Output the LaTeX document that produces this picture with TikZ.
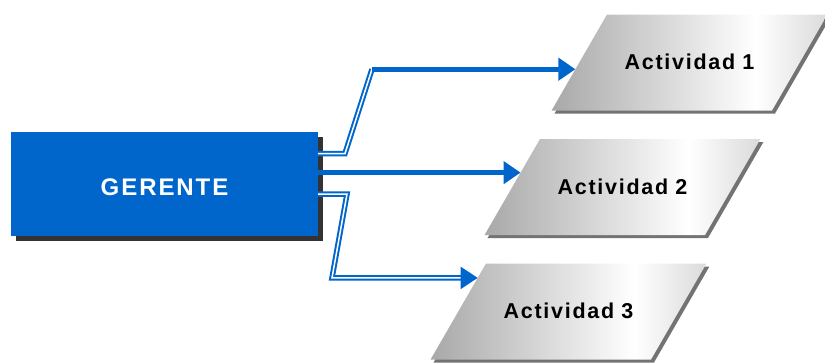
\documentclass[tikz,border=0pt]{standalone}
\usepackage{fontspec}
\setmainfont{Liberation Sans}
\newfontfamily\actfont[LetterSpace=8]{Liberation Sans}
\usetikzlibrary{shapes.geometric,shadows,calc,arrows.meta}
\definecolor{gerblue}{RGB}{0,102,204}
\definecolor{shadowgray}{RGB}{51,51,51}
\pgfdeclarehorizontalshading{metal}{100bp}{color(0bp)=(black!50); color(12bp)=(black!46); color(62bp)=(white); color(100bp)=(black!42)}
\tikzset{
    boss/.style={rectangle, fill=gerblue, text=white, minimum width=307pt, minimum height=104pt,
        inner sep=0pt, text height=25pt, font=\actfont\fontsize{24}{28}\selectfont\bfseries,
        general shadow={shadow xshift=5pt, shadow yshift=-5pt, fill=shadowgray}},
    task/.style={trapezium, trapezium left angle=60, trapezium right angle=120,
        text width=165pt, align=center, text height=55pt, text depth=41pt,
        inner sep=0pt, outer sep=0pt, shade, shading=metal,
        font=\actfont\fontsize{21.5}{25}\selectfont\bfseries,
        general shadow={shadow xshift=3pt, shadow yshift=-3pt, fill=black!55}},
    flow/.style={draw=gerblue, line width=5pt},
    dflow/.style={draw=gerblue, line width=2pt, double=white, double distance=1.5pt},
    arr/.style={-{Triangle[length=17pt,width=22pt]}}
}
\begin{document}
\begin{tikzpicture}[x=1pt,y=-1pt]
        \useasboundingbox (0,0) rectangle (825,362);
        % boxes
            \node[boss] (gerente) at (164.5,183.5) {GERENTE};
            \foreach \n/\x/\y in {1/689.5/62.5,2/622.5/187,3/568.5/311.5}{
                \node[task] (act\n) at (\x,\y) {Actividad \n};
            }
        % entry points
            \coordinate (in1) at ($(act1.top left corner)!0.57!(act1.bottom left corner)$);
            \coordinate (in2) at ($(act2.top left corner)!0.35!(act2.bottom left corner)$);
            \coordinate (in3) at ($(act3.top left corner)!0.15!(act3.bottom left corner)$);
            \coordinate (o1) at ([yshift=30pt]gerente.east);
            \coordinate (o3) at ([yshift=-10.5pt]gerente.east);
            \coordinate (b1) at (345,0 |- o1);
            \coordinate (b2) at (372,0 |- in1);
            \coordinate (b3) at (347,0 |- o3);
            \coordinate (b4) at (332,0 |- in3);
        % arrows
            \draw[dflow] (o1) -- (b1) -- (b2);
            \draw[flow,arr] (b2) -- (in1);
            \draw[flow,arr] (gerente.east |- in2) -- (in2);
            \draw[dflow,arr] (o3) -- (b3) -- (b4) -- (in3);
        \end{tikzpicture}
\end{document}
